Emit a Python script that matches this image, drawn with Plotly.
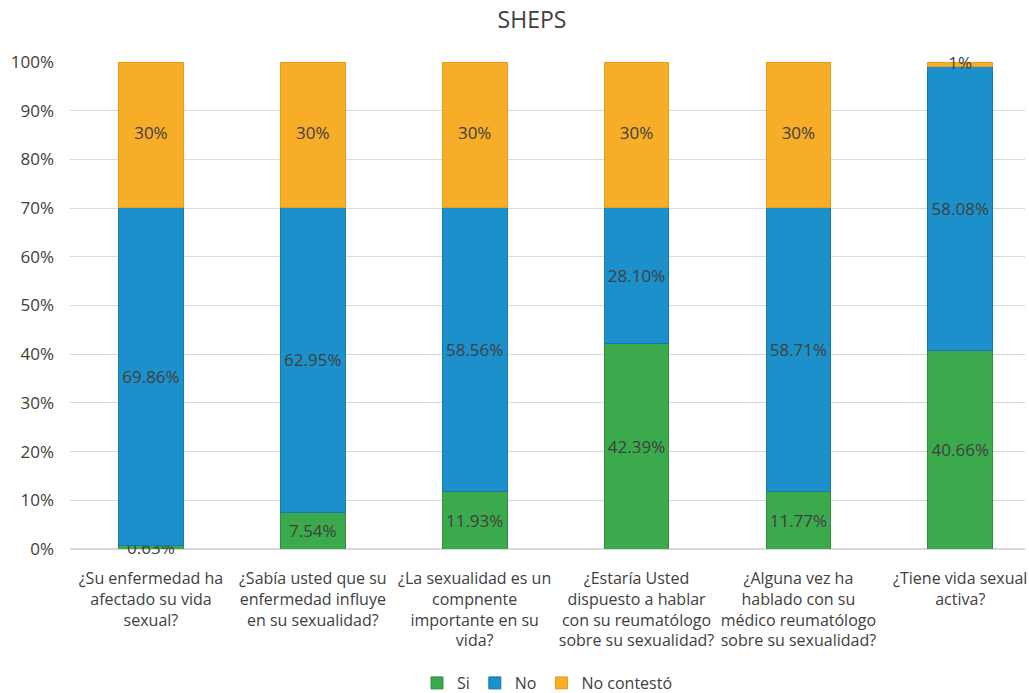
import plotly.graph_objects as go

categorias = [
    "¿Su enfermedad ha<br>afectado su vida<br>sexual?",
    "¿Sabía usted que su<br>enfermedad influye<br>en su sexualidad?",
    "¿La sexualidad es un<br>compnente<br>importante en su<br>vida?",
    "¿Estaría Usted<br>dispuesto a hablar<br>con su reumatólogo<br>sobre su sexualidad?",
    "¿Alguna vez ha<br>hablado con su<br>médico reumatólogo<br>sobre su sexualidad?",
    "¿Tiene vida sexual<br>activa?",
]

si = [0.63, 7.54, 11.93, 42.39, 11.77, 40.66]
no = [69.86, 62.95, 58.56, 28.10, 58.71, 58.08]
no_contesto = [30, 30, 30, 30, 30, 1]

si_txt = ["%.2f%%" % v for v in si]
no_txt = ["%.2f%%" % v for v in no]
nc_txt = ["%d%%" % v for v in no_contesto]

x = list(range(len(categorias)))

fig = go.Figure()
series = [
    ("Si", si, si_txt, "#3BAA4C", "#2E9140"),
    ("No", no, no_txt, "#1B90CB", "#1479AE"),
    ("No contestó", no_contesto, None, "#F8AD29", "#E89D1C"),
]
for nombre, vals, txt, color, borde in series:
    fig.add_trace(go.Bar(
        x=x, y=vals, name=nombre, text=txt,
        textposition="inside", insidetextanchor="middle", constraintext="none",
        textfont=dict(color="#404040", size=17),
        marker=dict(color=color, line=dict(color=borde, width=1)),
        width=0.4, hoverinfo="skip", cliponaxis=False,
    ))

# labels of the "No contestó" segments, at the middle of each (normalised) segment
totales = [a + b + c for a, b, c in zip(si, no, no_contesto)]
nc_mid = [(a + b + c / 2) / t * 100 for a, b, c, t in zip(si, no, no_contesto, totales)]
fig.add_trace(go.Scatter(
    x=x, y=nc_mid, text=nc_txt, mode="text", showlegend=False, hoverinfo="skip",
    textfont=dict(color="#404040", size=17, family="Open Sans"), cliponaxis=False,
))

fig.update_layout(
    barmode="stack", barnorm="percent",
    width=1029, height=693,
    margin=dict(l=70, r=4, t=62, b=144),
    paper_bgcolor="white", plot_bgcolor="white",
    font=dict(family="Open Sans", color="#404040", size=16),
    title=dict(text="SHEPS", x=0.517, xanchor="center", y=0.971, yanchor="middle",
               font=dict(size=23, color="#404040")),
    uniformtext=dict(minsize=17, mode="show"),
    showlegend=True,
    legend=dict(orientation="h", x=0.5, xanchor="center", yref="container",
                y=0.0144, yanchor="middle",
                font=dict(size=16), traceorder="normal", itemwidth=30),
    xaxis=dict(tickmode="array", tickvals=x, ticktext=categorias, range=[-0.5, 5.4],
               showgrid=False, zeroline=False, showline=False, automargin=False,
               ticklabelstandoff=18,
               tickfont=dict(size=16, color="#404040"), tickangle=0),
    yaxis=dict(range=[0, 100], dtick=10, ticksuffix="%", showgrid=True, automargin=False,
               gridcolor="#D9D9D9", gridwidth=1, zeroline=True, zerolinecolor="#D9D9D9",
               ticklabelstandoff=15,
               tickfont=dict(size=17, color="#404040"), ticklen=0, ticks=""),
)

fig.write_html("out.html", config={"displayModeBar": False},
               post_script="document.body.style.margin='0';")
